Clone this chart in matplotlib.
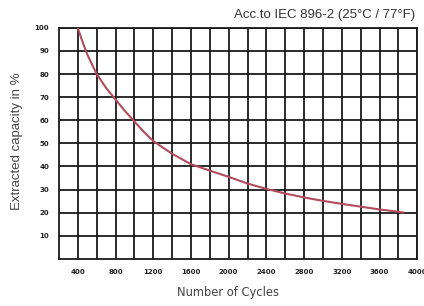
import matplotlib.pyplot as plt
import numpy as np

# values
cycles = [400, 450, 500, 600, 700, 800, 900, 1000, 1100, 1200, 1400, 1600,
          1800, 2000, 2200, 2400, 2600, 2800, 3000, 3200, 3400, 3600, 3800, 3850]
capacity = [100, 94, 88.5, 80, 74, 69, 64, 59.5, 55, 51, 45.5, 41,
            38.2, 35.5, 32.6, 30.3, 28.3, 26.6, 25.1, 23.8, 22.6, 21.4, 20.4, 20.1]
x_labels = [400, 800, 1200, 1600, 2000, 2400, 2800, 3200, 3600, 4000]
y_labels = [10, 20, 30, 40, 50, 60, 70, 80, 90, 100]

fig = plt.figure(figsize=(4.24, 3.06), dpi=100)
ax = fig.add_axes([0.139, 0.154, 0.845, 0.755])

ax.plot(cycles, capacity, color='#b24c5c', lw=1.5, zorder=3)

ax.set_xlim(200, 4000)
ax.set_ylim(0, 100)
ax.set_xticks(x_labels)
ax.set_xticks(np.arange(600, 4000, 400), minor=True)
ax.set_yticks(y_labels)
ax.set_xticklabels([str(v) for v in x_labels], fontsize=5, fontweight='bold')
ax.set_yticklabels([str(v) for v in y_labels], fontsize=5, fontweight='bold')
ax.tick_params(which='both', length=0, pad=7, colors='#222222')
ax.grid(True, which='both', color='#1a1a1a', lw=1.3)
ax.set_axisbelow(True)
for s in ax.spines.values():
    s.set_color('#1a1a1a')
    s.set_linewidth(1.3)

ax.set_xlabel('Number of Cycles', fontsize=8.3, color='#444444', va='center')
ax.xaxis.set_label_coords(0.472, -0.147)
ax.set_ylabel('Extracted capacity in %', fontsize=9.5, color='#444444',
              family='Liberation Sans', va='center')
ax.yaxis.set_label_coords(-0.117, 0.51)
fig.text(0.98, 0.95, 'Acc.to IEC 896-2 (25°C / 77°F)', ha='right', va='center',
         fontsize=9.5, color='#333333', family='Liberation Sans')

fig.savefig('out.png', dpi=100)
